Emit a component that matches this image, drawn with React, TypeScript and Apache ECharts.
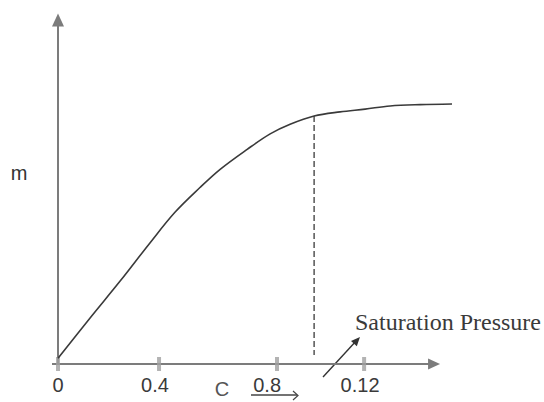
import React, { useEffect, useRef } from "react";
import * as echarts from "echarts";

// Curve m vs C
const curveX = [0, 0.127, 0.246, 0.364, 0.463, 0.562, 0.642, 0.749, 0.84, 0.919, 1.014, 1.117, 1.216, 1.315, 1.434, 1.56];
const curveY = [1.7, 13.4, 24.1, 35.2, 44.1, 51.3, 56.6, 62.4, 66.9, 69.7, 72.1, 73.3, 74.1, 75.0, 75.4, 75.6];

// Saturation point (dashed drop line)
const satX = [1.014, 1.014];
const satY = [72.1, 2.6];

// x-axis tick marks and labels (hand-drawn positions)
const tickX = [0, 0.4, 0.867, 1.212];
const labelX = [0, 0.384, 0.828, 1.196];
const tickLabels = ["0", "0.4", "0.8", "0.12"];

// x-axis drawn line extent (arrow end)
const X_MIN = -0.0238;
const X_MAX = 1.56;
const X_ARROW_END = 1.489;

const AXIS_COLOR = "#7c7c7c";
const INK = "#3a3a3a";

export default function App() {
  const ref = useRef<HTMLDivElement>(null);

  useEffect(() => {
    if (!ref.current) return;
    const chart = echarts.init(ref.current, null, { renderer: "svg" });
    chart.setOption({
      animation: false,
      backgroundColor: "#ffffff",
      grid: { left: 52, right: 92, top: 20, bottom: 38, containLabel: false },
      xAxis: {
        type: "value",
        min: X_MIN,
        max: X_MAX,
        splitLine: { show: false },
        axisTick: { show: false },
        axisLine: { show: false },
        axisLabel: {
          show: true,
          customValues: labelX,
          margin: 11,
          fontSize: 20,
          color: "#3a3a3a",
          fontFamily: "Liberation Sans",
          formatter: (v: number) => {
            const i = labelX.findIndex((x) => Math.abs(x - v) < 1e-6);
            return i >= 0 ? tickLabels[i] : "";
          },
        },
      },
      yAxis: {
        type: "value",
        min: 0,
        max: 100,
        splitLine: { show: false },
        axisTick: { show: false },
        axisLabel: { show: false },
        axisLine: {
          show: true,
          symbol: ["none", "triangle"],
          symbolSize: [12, 13],
          lineStyle: { color: AXIS_COLOR, width: 2 },
        },
      },
      series: [
        {
          type: "scatter",
          data: tickX.map((x) => [x, 0]),
          symbol: "rect",
          symbolSize: [4, 14],
          itemStyle: { color: "#a0a0a0" },
          clip: false,
          silent: true,
          z: 1,
          markLine: {
            silent: true,
            symbol: ["none", "triangle"],
            symbolSize: [11, 12],
            label: { show: false },
            lineStyle: { color: AXIS_COLOR, width: 2, type: "solid" },
            data: [[{ coord: [X_MIN, 0] }, { coord: [X_ARROW_END, 0] }]],
            z: 0,
          },
        },
        {
          type: "line",
          data: curveX.map((x, i) => [x, curveY[i]]),
          smooth: 0.35,
          showSymbol: false,
          clip: false,
          lineStyle: { color: INK, width: 1.6 },
          z: 3,
        },
        {
          type: "line",
          data: satX.map((x, i) => [x, satY[i]]),
          showSymbol: false,
          clip: false,
          lineStyle: { color: INK, width: 1.3, type: [6, 3] },
          z: 3,
        },
      ],
      graphic: [
        {
          type: "text",
          x: 19,
          y: 173,
          style: {
            text: "m",
            fontSize: 20,
            fontFamily: "Liberation Sans",
            fill: "#333",
            align: "center",
            verticalAlign: "middle",
          },
        },
        {
          type: "text",
          x: 222,
          y: 389,
          style: {
            text: "C",
            fontSize: 20,
            fontFamily: "Liberation Sans",
            fill: "#555",
            align: "center",
            verticalAlign: "middle",
          },
        },
        {
          type: "polyline",
          shape: { points: [[251, 395], [297, 395]] },
          style: { stroke: "#444", lineWidth: 1.3, fill: null },
        },
        {
          type: "polyline",
          shape: { points: [[293, 391], [298, 395.5], [293, 400]] },
          style: { stroke: "#444", lineWidth: 1.2, fill: null },
        },
        {
          type: "text",
          x: 355,
          y: 322,
          style: {
            text: "Saturation Pressure",
            fontSize: 24,
            fontFamily: "Liberation Serif",
            fill: "#3a3a3a",
            align: "left",
            verticalAlign: "middle",
          },
        },
        {
          type: "line",
          shape: { x1: 323, y1: 377, x2: 357, y2: 340 },
          style: { stroke: "#333", lineWidth: 1.4 },
        },
        {
          type: "polygon",
          shape: { points: [[360, 337], [356.8, 346.3], [351.0, 341.0]] },
          style: { fill: "#333" },
        },
      ],
    });
    return () => chart.dispose();
  }, []);

  return (
    <div
      ref={ref}
      style={{ position: "fixed", left: 0, top: 0, width: 544, height: 402, background: "#fff" }}
    />
  );
}
